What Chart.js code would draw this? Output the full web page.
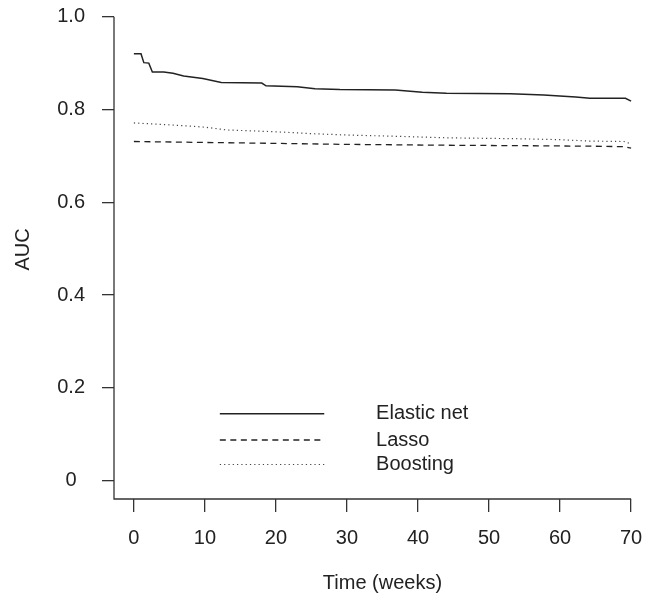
<!DOCTYPE html>
<html>
<head>
<meta charset="utf-8">
<script src="https://cdn.jsdelivr.net/npm/chart.js@4/dist/chart.umd.min.js"></script>
<style>
html,body{margin:0;padding:0;background:#ffffff;}
#wrap{width:654px;height:605px;}
</style>
</head>
<body>
<div id="wrap"><canvas id="c" width="654" height="605"></canvas></div>
<script>
// ---- data ----
const seriesNames = ['Elastic net', 'Lasso', 'Boosting'];

const elasticWeeks = [0, 1.0, 1.4, 2.1, 2.6, 4.2, 5.5, 7.0, 9.7, 12.3, 18.0, 18.6, 23, 25.5, 29, 36.8, 40.6, 44, 53, 57.7, 62.2, 64.2, 69.2, 70];
const elasticAuc   = [0.920, 0.920, 0.901, 0.900, 0.881, 0.881, 0.878, 0.872, 0.867, 0.858, 0.857, 0.851, 0.849, 0.845, 0.843, 0.842, 0.837, 0.835, 0.834, 0.831, 0.827, 0.824, 0.824, 0.818];

const lassoWeeks = [0, 10, 20, 29, 44, 55, 64, 69, 70];
const lassoAuc   = [0.731, 0.729, 0.727, 0.725, 0.723, 0.722, 0.721, 0.720, 0.717];

const boostWeeks = [0, 5, 10, 13, 20, 25, 30, 37.6, 44, 54, 60, 64, 69, 70];
const boostAuc   = [0.771, 0.767, 0.762, 0.756, 0.752, 0.748, 0.745, 0.742, 0.739, 0.737, 0.735, 0.732, 0.731, 0.726];

const xTickValues = [0, 10, 20, 30, 40, 50, 60, 70];
const xTickLabels = ['0', '10', '20', '30', '40', '50', '60', '70'];
const yTickValues = [0, 0.2, 0.4, 0.6, 0.8, 1.0];
const yTickLabels = ['0', '0.2', '0.4', '0.6', '0.8', '1.0'];

const xTitle = 'Time (weeks)';
const yTitle = 'AUC';

// ---- styling / layout ----
const INK = '#222222';
const AXIS = '#333333';
const FONT = 'Liberation Sans, Arial, Helvetica, sans-serif';
const FS = 20;

const legendLineX = [12.1, 26.8];
const legendTextX = 34.1;
const legendRowY = [0.1444, 0.0877, 0.0349];

function pts(xs, ys) { return xs.map((v, i) => ({ x: v, y: ys[i] })); }

const axisLines = {
  id: 'axisLines',
  afterDatasetsDraw(chart) {
    const { ctx, chartArea: ca, scales: { x, y } } = chart;
    ctx.save();
    ctx.strokeStyle = AXIS;
    ctx.lineWidth = 1.3;
    ctx.beginPath();
    const top = y.getPixelForValue(yTickValues[yTickValues.length - 1]);
    const right = x.getPixelForValue(xTickValues[xTickValues.length - 1]);
    ctx.moveTo(ca.left, top);
    ctx.lineTo(ca.left, ca.bottom);
    ctx.lineTo(right, ca.bottom);
    ctx.stroke();
    ctx.restore();
  }
};

const legendPlugin = {
  id: 'rLegend',
  afterDatasetsDraw(chart) {
    const { ctx, scales: { x, y } } = chart;
    ctx.save();
    chart.data.datasets.forEach((ds, i) => {
      const py = y.getPixelForValue(legendRowY[i]);
      ctx.strokeStyle = ds.borderColor;
      ctx.lineWidth = ds.borderWidth;
      ctx.setLineDash(ds.borderDash || []);
      ctx.beginPath();
      ctx.moveTo(x.getPixelForValue(legendLineX[0]), py);
      ctx.lineTo(x.getPixelForValue(legendLineX[1]), py);
      ctx.stroke();
      ctx.setLineDash([]);
      ctx.fillStyle = INK;
      ctx.font = FS + 'px ' + FONT;
      ctx.textAlign = 'left';
      ctx.textBaseline = 'middle';
      ctx.fillText(ds.label, x.getPixelForValue(legendTextX), py);
    });
    ctx.restore();
  }
};

new Chart(document.getElementById('c'), {
  type: 'line',
  data: {
    datasets: [
      { label: seriesNames[0], data: pts(elasticWeeks, elasticAuc), borderColor: '#222222', borderWidth: 1.5, pointRadius: 0, tension: 0, fill: false },
      { label: seriesNames[1], data: pts(lassoWeeks, lassoAuc), borderColor: '#222222', borderWidth: 1.3, borderDash: [6, 4.5], pointRadius: 0, tension: 0, fill: false },
      { label: seriesNames[2], data: pts(boostWeeks, boostAuc), borderColor: '#444444', borderWidth: 1.2, borderDash: [1.2, 3.1], pointRadius: 0, tension: 0, fill: false }
    ]
  },
  options: {
    responsive: false,
    devicePixelRatio: 1,
    animation: false,
    layout: { padding: { top: 0, right: 3, bottom: 0, left: 0 } },
    plugins: { legend: { display: false }, tooltip: { enabled: false } },
    scales: {
      x: {
        type: 'linear',
        min: -2.8,
        max: 72.8,
        afterBuildTicks: (s) => { s.ticks = xTickValues.map(v => ({ value: v })); },
        afterFit: (s) => { s.height = 106; s.paddingLeft = 0; s.paddingRight = 0; },
        ticks: {
          autoSkip: false, maxRotation: 0,
          color: INK, font: { family: FONT, size: FS }, padding: 14,
          callback: (v) => { const i = xTickValues.indexOf(v); return i >= 0 ? xTickLabels[i] : ''; }
        },
        grid: { display: true, drawOnChartArea: false, drawTicks: true, tickLength: 13, color: AXIS, lineWidth: 1.3 },
        border: { display: false },
        title: { display: true, text: xTitle, color: INK, font: { family: FONT, size: FS }, padding: { top: 0, bottom: 10 } }
      },
      y: {
        type: 'linear',
        min: -0.0394,
        max: 1.036,
        afterBuildTicks: (s) => { s.ticks = yTickValues.map(v => ({ value: v })); },
        afterFit: (s) => { s.width = 114; s.paddingTop = 0; s.paddingBottom = 0; },
        ticks: {
          autoSkip: false, crossAlign: 'center',
          color: INK, font: { family: FONT, size: FS }, padding: 17,
          callback: (v) => { const i = yTickValues.findIndex(t => Math.abs(t - v) < 1e-9); return i >= 0 ? yTickLabels[i] : ''; }
        },
        grid: { display: true, drawOnChartArea: false, drawTicks: true, tickLength: 12, color: AXIS, lineWidth: 1.3 },
        border: { display: false },
        title: { display: true, text: yTitle, color: INK, font: { family: FONT, size: FS }, padding: { top: 11, bottom: 0 } }
      }
    }
  },
  plugins: [axisLines, legendPlugin]
});
</script>
</body>
</html>
